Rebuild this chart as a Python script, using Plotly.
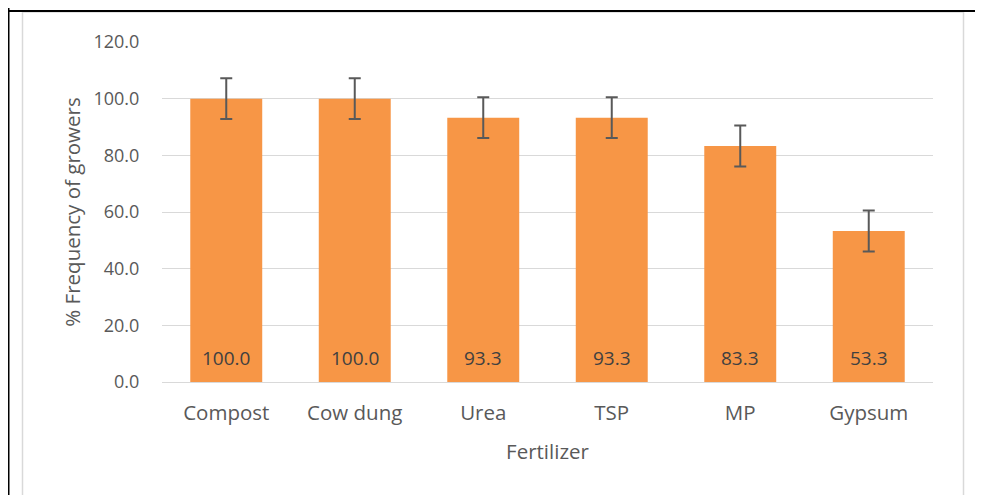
import plotly.graph_objects as go

fertilizers = ["Compost", "Cow dung", "Urea", "TSP", "MP", "Gypsum"]
frequency = [100.0, 100.0, 93.3, 93.3, 83.3, 53.3]
error = [7.2, 7.2, 7.2, 7.2, 7.2, 7.2]
y_ticks = [0, 20, 40, 60, 80, 100, 120]

font = "Open Sans"
grey_text = "#595959"

# page has an 8px body margin, so the figure is 8px smaller than the window
W, H = 975, 487
# plot area in figure pixels
L, R, T, B = 154, 925, 34, 374


def px(x):
    return (x - L) / (R - L)


def py(y):
    return (B - y) / (B - T)


fig = go.Figure(
    go.Bar(
        x=fertilizers,
        y=frequency,
        marker={"color": "#F79646", "line": {"width": 0}},
        width=0.56,
        error_y={
            "type": "data",
            "array": error,
            "color": "#595959",
            "thickness": 2,
            "width": 6,
        },
        hoverinfo="x+y",
    )
)

# value labels sitting near the base of each bar
for name, value in zip(fertilizers, frequency):
    fig.add_annotation(
        x=name,
        y=0,
        text=f"{value:.1f}",
        showarrow=False,
        yanchor="middle",
        yshift=24,
        font={"family": font, "size": 19, "color": "#404040"},
    )

shapes = [
    # outer chart border (light grey)
    {"type": "rect", "x0": px(14.5), "x1": px(955.5), "y0": py(4), "y1": py(520),
     "line": {"color": "#d9d9d9", "width": 1.5}},
    # black frame lines
    {"type": "line", "x0": px(0), "x1": px(980), "y0": py(3), "y1": py(3),
     "line": {"color": "black", "width": 2}},
    {"type": "line", "x0": px(0.5), "x1": px(0.5), "y0": py(-5), "y1": py(500),
     "line": {"color": "black", "width": 2}},
]
for s in shapes:
    s["xref"] = "paper"
    s["yref"] = "paper"
    s["layer"] = "below"

fig.update_layout(
    width=W,
    height=H,
    margin={"l": L, "r": W - R, "t": T, "b": H - B, "autoexpand": False},
    paper_bgcolor="white",
    plot_bgcolor="white",
    showlegend=False,
    shapes=shapes,
    font={"family": font, "color": grey_text},
    xaxis={
        "title": {"text": "Fertilizer", "font": {"size": 20.5, "color": grey_text}, "standoff": 20},
        "tickfont": {"size": 20.5, "color": grey_text},
        "showline": True,
        "linecolor": "#d9d9d9",
        "linewidth": 1,
        "ticks": "outside",
        "tickcolor": "rgba(0,0,0,0)",
        "ticklen": 12,
    },
    yaxis={
        "title": {"text": "% Frequency of growers", "font": {"size": 20.5, "color": grey_text}, "standoff": 7},
        "range": [0, 120],
        "tickvals": y_ticks,
        "ticktext": [f"{v:.1f}" for v in y_ticks],
        "tickfont": {"size": 18, "color": grey_text},
        "gridcolor": "#d9d9d9",
        "gridwidth": 1,
        "zeroline": False,
        "ticks": "outside",
        "tickcolor": "rgba(0,0,0,0)",
        "ticklen": 18,
    },
)

fig.write_html("out.html")
